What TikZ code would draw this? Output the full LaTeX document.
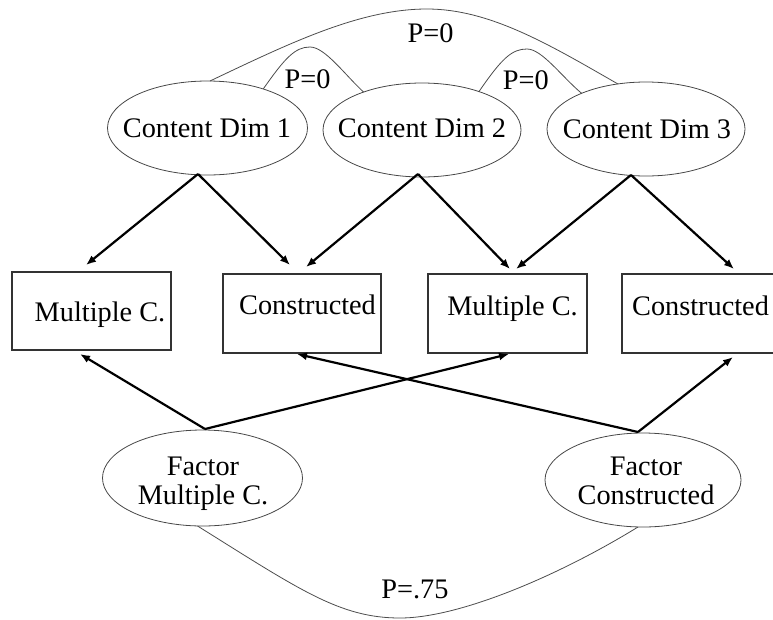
\documentclass[tikz,border=0pt]{standalone}
\usepackage{fontspec}
\setmainfont{Liberation Serif}
\usetikzlibrary{arrows.meta,calc,shapes.geometric}
\begin{document}
\begin{tikzpicture}[x=1pt,y=-1pt,
  every node/.style={inner sep=0pt, outer sep=0pt},
  lbl/.style={font=\fontsize{28.3}{30}\selectfont, anchor=base, text=black},
  ell/.style={draw=black!72, line width=0.8pt, ellipse},
  boxnode/.style={draw=black!80, line width=1.2pt, rectangle, minimum width=159pt, minimum height=79pt},
  arr/.style={draw=black, line width=2.2pt, -{Latex[length=10pt,width=8pt]}},
  corr/.style={draw=black!70, line width=0.8pt}]
\useasboundingbox (0,0) rectangle (773,619);
\clip (0,0) rectangle (773,619);
% top ellipses
\node[ell, minimum width=200pt, minimum height=94pt] (cd1) at (207.5,128) {};
\node[ell, minimum width=198pt, minimum height=94pt] (cd2) at (422,130) {};
\node[ell, minimum width=198pt, minimum height=94pt] (cd3) at (646,129) {};
\node[lbl] (cd1t) at (207,137) {Content Dim 1};
\node[lbl] (cd2t) at (422,137) {Content Dim 2};
\node[lbl] (cd3t) at (647,138) {Content Dim 3};
% boxes
\node[boxnode, minimum height=78pt] (b1) at (91.5,311) {};
\node[boxnode, minimum width=158pt] (b2) at (302,313.5) {};
\node[boxnode] (b3) at (507.5,313.5) {};
\node[boxnode] (b4) at (701.5,313.5) {};
\node[lbl] (b1t) at (100,321) {Multiple C.};
\node[lbl] (b2t) at (307.5,314) {Constructed};
\node[lbl] (b3t) at (512.5,315) {Multiple C.};
\node[lbl] (b4t) at (700.5,315) {Constructed};
% bottom ellipses
\node[ell, minimum width=200pt, minimum height=96pt] (fmc) at (202.5,478) {};
\node[ell, minimum width=196pt, minimum height=94pt] (fc) at (643,480) {};
\node[lbl] (fmct1) at (203,475) {Factor};
\node[lbl] (fmct2) at (203,504) {Multiple C.};
\node[lbl] (fct1) at (646,475) {Factor};
\node[lbl] (fct2) at (646,504) {Constructed};
% correlation curves
\draw[corr] (cd1.87) .. controls (290,43) and (360,9) .. (427,9)
  .. controls (490,9) and (550,45) .. (cd3.122);
\draw[corr] (cd1.35) .. controls (285,58) and (295,47) .. (310,47)
  .. controls (325,47) and (345,75) .. (cd2.147);
\draw[corr] (cd2.34) .. controls (502,58) and (512,49) .. (527,49)
  .. controls (542,49) and (562,77) .. (cd3.151);
\draw[corr] (fmc.264) .. controls (300,590) and (340,618) .. (400,618)
  .. controls (460,618) and (560,575) .. (fc.264);
\node[lbl] (p1) at (430.5,42) {P=0};
\node[lbl] (p2) at (307.5,88) {P=0};
\node[lbl] (p3) at (525.8,89) {P=0};
\node[lbl] (p4) at (415,598) {P=.75};
% loadings from content dimensions
\draw[arr] ($(cd1.south)+(-9.5,-1)$) -- ($(b1.north)+(-5.5,-7)$);
\draw[arr] ($(cd1.south)+(-9.5,-1)$) -- ($(b2.north)+(-12,-9)$);
\draw[arr] ($(cd2.south)+(-4,-3)$) -- ($(b2.north)+(4,-7)$);
\draw[arr] ($(cd2.south)+(-4,-3)$) -- ($(b3.north)+(2.5,-5)$);
\draw[arr] ($(cd3.south)+(-15,-1)$) -- ($(b3.north)+(8.5,-5)$);
\draw[arr] ($(cd3.south)+(-15,-1)$) -- ($(b4.north)+(32.5,-5)$);
% loadings from format factors
\draw[arr] ($(fmc.north)+(2.5,-1)$) -- ($(b1.south)+(-11.5,4)$);
\draw[arr] ($(fmc.north)+(2.5,-1)$) -- ($(b3.south)+(1.5,1)$);
\draw[arr] ($(fc.north)+(-5,-1)$) -- ($(b2.south)+(-5,1)$);
\draw[arr] ($(fc.north)+(-5,-1)$) -- ($(b4.south)+(31.5,4)$);
\end{tikzpicture}
\end{document}
